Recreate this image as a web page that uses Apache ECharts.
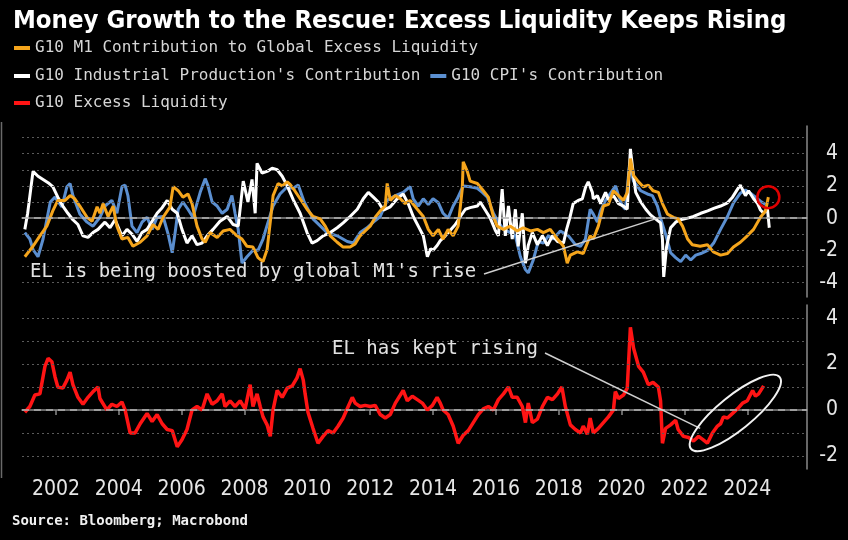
<!DOCTYPE html>
<html><head><meta charset="utf-8">
<script src="https://cdn.jsdelivr.net/npm/echarts@6/dist/echarts.min.js"></script>
<style>html,body{margin:0;padding:0;background:#000;}#c{width:848px;height:540px;}</style>
</head><body><div id="c"></div>
<script>
const yearTicks = [2002,2004,2006,2008,2010,2012,2014,2016,2018,2020,2022,2024];
const topLabels = [-4,-2,0,2,4];
const topGridLines = [-4,-3,-2,-1,1,2,3,4,5];
const bottomLabels = [-2,0,2,4];
const bottomGridLines = [-2,-1,1,2,3,4];

const m1Contribution = [[2001.01,-2.4],[2001.27,-1.75],[2001.49,-1.1],[2001.71,-0.5],[2001.9,0.45],[2002.06,1.1],[2002.29,1.1],[2002.45,1.4],[2002.6,1.2],[2002.76,0.75],[2002.99,0.05],[2003.15,-0.2],[2003.31,0.7],[2003.4,0.3],[2003.5,0.9],[2003.66,0.1],[2003.82,0.75],[2003.94,-0.5],[2004.1,-1.3],[2004.29,-1.2],[2004.45,-1.75],[2004.68,-1.5],[2004.9,-1.1],[2005.09,-0.4],[2005.25,-0.7],[2005.41,0.05],[2005.63,0.7],[2005.73,1.95],[2005.89,1.7],[2006.04,1.3],[2006.2,1.5],[2006.33,0.9],[2006.49,-0.5],[2006.65,-1.3],[2006.75,-1.5],[2006.9,-0.9],[2007.13,-1.2],[2007.32,-0.8],[2007.54,-0.7],[2007.76,-1.1],[2007.92,-1.3],[2008.08,-1.75],[2008.27,-1.8],[2008.43,-2.45],[2008.59,-2.7],[2008.72,-1.95],[2008.82,-0.25],[2008.91,1.4],[2009.07,2.15],[2009.2,2.0],[2009.36,2.25],[2009.45,2.1],[2009.6,1.7],[2009.77,1.2],[2009.99,0.55],[2010.18,0.1],[2010.41,-0.05],[2010.57,-0.5],[2010.73,-1.1],[2010.95,-1.5],[2011.14,-1.8],[2011.36,-1.8],[2011.52,-1.6],[2011.68,-1.1],[2011.84,-0.8],[2012.0,-0.5],[2012.16,0.05],[2012.32,0.45],[2012.48,0.75],[2012.54,2.15],[2012.64,1.1],[2012.8,1.4],[2012.96,1.2],[2013.11,0.9],[2013.27,1.1],[2013.5,0.55],[2013.69,0.1],[2013.85,-0.7],[2014.0,-1.1],[2014.17,-0.7],[2014.32,-1.3],[2014.48,-0.7],[2014.64,-1.1],[2014.8,-0.5],[2014.93,1.8],[2014.96,3.5],[2015.09,2.9],[2015.18,2.3],[2015.41,2.15],[2015.6,1.7],[2015.76,1.3],[2015.92,0.1],[2016.04,-0.5],[2016.24,-0.7],[2016.46,-0.5],[2016.68,-0.8],[2016.87,-0.6],[2017.1,-0.8],[2017.32,-0.7],[2017.51,-0.9],[2017.73,-0.7],[2017.96,-1.3],[2018.15,-1.75],[2018.27,-2.8],[2018.37,-2.3],[2018.59,-2.1],[2018.78,-2.2],[2019.0,-1.1],[2019.1,-1.3],[2019.26,-0.5],[2019.42,0.75],[2019.58,0.85],[2019.74,1.7],[2019.9,1.4],[2020.06,1.1],[2020.18,1.6],[2020.28,3.7],[2020.38,2.65],[2020.54,2.25],[2020.69,1.95],[2020.85,2.05],[2021.0,1.7],[2021.17,1.6],[2021.3,0.9],[2021.46,0.25],[2021.65,0.05],[2021.8,-0.05],[2021.94,-0.5],[2022.1,-1.3],[2022.25,-1.65],[2022.5,-1.75],[2022.73,-1.65],[2022.92,-2.1],[2023.15,-2.3],[2023.37,-2.2],[2023.56,-1.8],[2023.78,-1.5],[2024.0,-1.1],[2024.2,-0.7],[2024.42,0.05],[2024.58,0.45],[2024.67,1.3]];

const cpiContribution = [[2001.01,-0.9],[2001.17,-1.3],[2001.27,-1.95],[2001.43,-2.4],[2001.59,-1.3],[2001.82,1.0],[2001.97,1.3],[2002.19,0.7],[2002.35,1.95],[2002.45,2.15],[2002.54,1.4],[2002.76,0.25],[2002.99,-0.25],[2003.18,-0.5],[2003.4,0.05],[2003.56,0.75],[2003.78,1.1],[2003.94,0.3],[2004.1,1.95],[2004.2,2.05],[2004.29,1.4],[2004.42,-0.5],[2004.58,-0.9],[2004.74,-0.25],[2004.9,0.05],[2005.06,-0.7],[2005.22,0.05],[2005.41,0.1],[2005.57,-1.0],[2005.7,-2.15],[2005.8,-0.8],[2005.89,0.55],[2006.04,1.0],[2006.2,0.55],[2006.36,0.05],[2006.59,1.6],[2006.75,2.45],[2006.84,2.0],[2006.97,1.0],[2007.13,0.75],[2007.29,0.3],[2007.45,0.55],[2007.6,1.4],[2007.7,0.3],[2007.8,-0.7],[2007.92,-2.8],[2008.08,-2.4],[2008.27,-2.0],[2008.43,-2.0],[2008.59,-1.3],[2008.75,-0.25],[2008.91,0.75],[2009.13,1.5],[2009.36,1.95],[2009.55,1.85],[2009.71,2.05],[2009.9,1.0],[2010.18,-0.05],[2010.63,-0.9],[2010.95,-1.1],[2011.27,-1.45],[2011.46,-1.55],[2011.68,-0.9],[2011.9,-0.6],[2012.1,-0.25],[2012.32,0.1],[2012.54,1.1],[2012.8,1.4],[2013.05,1.6],[2013.27,1.95],[2013.37,1.2],[2013.53,0.75],[2013.69,1.2],[2013.85,0.85],[2014.0,1.2],[2014.17,0.95],[2014.32,0.3],[2014.48,0.0],[2014.64,0.75],[2014.77,1.2],[2014.96,2.0],[2015.18,1.95],[2015.41,1.85],[2015.57,1.6],[2015.73,1.3],[2015.92,0.3],[2016.08,-0.25],[2016.24,-0.7],[2016.46,-0.9],[2016.62,-1.1],[2016.78,-2.4],[2016.94,-3.2],[2017.03,-3.4],[2017.19,-2.6],[2017.35,-1.45],[2017.51,-1.55],[2017.67,-1.1],[2017.83,-1.3],[2018.05,-0.8],[2018.31,-1.1],[2018.53,-1.65],[2018.69,-1.75],[2018.85,-1.3],[2019.0,0.55],[2019.1,0.25],[2019.23,-0.25],[2019.33,0.45],[2019.49,1.1],[2019.65,1.55],[2019.81,2.0],[2019.9,1.4],[2020.03,0.75],[2020.12,0.55],[2020.25,3.3],[2020.38,2.3],[2020.61,1.7],[2020.82,1.5],[2020.98,1.4],[2021.14,0.75],[2021.24,0.0],[2021.4,-1.0],[2021.56,-2.15],[2021.72,-2.45],[2021.88,-2.7],[2022.04,-2.3],[2022.2,-2.6],[2022.36,-2.3],[2022.52,-2.2],[2022.74,-2.0],[2022.93,-1.55],[2023.15,-0.7],[2023.37,0.1],[2023.56,0.95],[2023.78,1.55],[2023.94,1.75],[2024.1,1.55],[2024.26,1.3],[2024.42,1.05],[2024.58,0.85]];

const ipContribution = [[2001.01,-0.7],[2001.1,0.3],[2001.27,2.9],[2001.43,2.6],[2001.59,2.4],[2001.75,2.2],[2001.9,1.95],[2002.06,1.3],[2002.22,0.75],[2002.38,0.3],[2002.54,-0.1],[2002.7,-0.4],[2002.86,-1.1],[2003.02,-1.2],[2003.18,-0.9],[2003.34,-0.7],[2003.56,-0.25],[2003.72,-0.6],[2003.88,-0.1],[2004.1,-1.1],[2004.26,-0.7],[2004.42,-1.0],[2004.58,-1.45],[2004.74,-0.9],[2004.9,-0.7],[2005.06,-0.2],[2005.22,0.3],[2005.38,0.65],[2005.54,1.1],[2005.7,0.55],[2005.86,0.3],[2006.01,-0.7],[2006.17,-1.55],[2006.33,-1.1],[2006.49,-1.65],[2006.65,-1.55],[2006.81,-1.1],[2007.0,-0.7],[2007.22,-0.2],[2007.45,0.1],[2007.64,-0.4],[2007.8,-0.5],[2007.96,2.3],[2008.11,1.0],[2008.24,2.4],[2008.34,0.3],[2008.4,3.4],[2008.56,2.8],[2008.72,2.9],[2008.88,3.1],[2009.04,3.0],[2009.2,2.6],[2009.36,2.0],[2009.55,1.15],[2009.77,0.3],[2009.99,-0.9],[2010.15,-1.55],[2010.31,-1.4],[2010.5,-1.1],[2010.73,-0.9],[2010.95,-0.6],[2011.14,-0.3],[2011.36,0.1],[2011.59,0.55],[2011.78,1.2],[2011.94,1.6],[2012.1,1.3],[2012.26,1.0],[2012.42,0.5],[2012.64,0.7],[2012.86,1.2],[2013.05,1.5],[2013.21,0.9],[2013.37,0.1],[2013.53,-0.5],[2013.69,-1.1],[2013.82,-2.4],[2013.92,-1.9],[2014.0,-2.0],[2014.13,-1.7],[2014.23,-1.4],[2014.39,-1.1],[2014.55,-0.75],[2014.71,-0.4],[2014.87,0.1],[2015.03,0.55],[2015.18,0.65],[2015.41,0.75],[2015.5,1.0],[2015.66,0.5],[2015.82,0.0],[2015.98,-0.75],[2016.08,-1.1],[2016.2,1.8],[2016.3,-1.1],[2016.4,0.75],[2016.52,-1.3],[2016.62,0.55],[2016.71,-1.75],[2016.84,0.3],[2016.94,-2.8],[2017.03,-1.7],[2017.16,-0.9],[2017.32,-1.65],[2017.48,-1.1],[2017.64,-1.7],[2017.8,-1.1],[2017.96,-1.45],[2018.15,-1.55],[2018.25,-0.7],[2018.35,0.0],[2018.46,0.9],[2018.62,1.1],[2018.75,1.2],[2018.85,1.9],[2018.94,2.25],[2019.07,1.6],[2019.1,1.2],[2019.23,1.4],[2019.33,0.9],[2019.49,1.6],[2019.58,1.15],[2019.74,1.4],[2019.9,0.9],[2020.06,0.75],[2020.18,0.55],[2020.28,4.3],[2020.38,2.6],[2020.45,1.6],[2020.61,1.0],[2020.77,0.55],[2020.92,0.2],[2021.08,-0.05],[2021.24,-0.3],[2021.3,-1.3],[2021.34,-3.65],[2021.43,-1.8],[2021.56,-0.6],[2021.72,-0.25],[2021.88,-0.1],[2022.1,0.0],[2022.29,0.1],[2022.52,0.3],[2022.74,0.45],[2022.93,0.6],[2023.15,0.75],[2023.37,0.95],[2023.53,1.3],[2023.69,1.8],[2023.78,2.05],[2023.94,1.4],[2024.04,1.7],[2024.2,1.2],[2024.33,0.9],[2024.42,0.5],[2024.52,0.3],[2024.64,0.6],[2024.7,-0.6]];

const excessLiquidity = [[2001.01,-0.1],[2001.17,0.15],[2001.33,0.65],[2001.49,0.7],[2001.65,1.9],[2001.75,2.25],[2001.87,2.1],[2001.97,1.45],[2002.06,1.0],[2002.22,0.95],[2002.35,1.3],[2002.45,1.65],[2002.54,1.1],[2002.7,0.55],[2002.86,0.25],[2003.02,0.55],[2003.18,0.8],[2003.34,1.0],[2003.4,0.5],[2003.62,0.0],[2003.78,0.25],[2003.94,0.15],[2004.1,0.35],[2004.2,0.0],[2004.36,-1.0],[2004.52,-1.0],[2004.68,-0.6],[2004.9,-0.15],[2005.06,-0.5],[2005.22,-0.2],[2005.38,-0.6],[2005.54,-0.85],[2005.7,-0.9],[2005.86,-1.6],[2006.01,-1.3],[2006.17,-0.85],[2006.33,0.0],[2006.49,0.15],[2006.65,0.0],[2006.81,0.7],[2006.97,0.25],[2007.13,0.4],[2007.29,0.7],[2007.38,0.15],[2007.54,0.4],[2007.7,0.15],[2007.86,0.4],[2008.02,0.05],[2008.18,1.1],[2008.27,0.15],[2008.4,0.7],[2008.5,0.15],[2008.59,-0.3],[2008.72,-0.65],[2008.82,-1.15],[2008.91,0.0],[2009.04,0.85],[2009.2,0.55],[2009.36,0.95],[2009.52,1.05],[2009.67,1.4],[2009.77,1.8],[2009.87,1.3],[2009.93,0.7],[2010.02,-0.1],[2010.18,-0.8],[2010.34,-1.45],[2010.5,-1.15],[2010.66,-0.9],[2010.82,-1.0],[2010.98,-0.7],[2011.14,-0.35],[2011.3,0.15],[2011.43,0.55],[2011.52,0.3],[2011.68,0.15],[2011.84,0.2],[2012.0,0.15],[2012.16,0.2],[2012.32,-0.2],[2012.48,-0.35],[2012.64,-0.2],[2012.8,0.3],[2012.96,0.65],[2013.05,0.85],[2013.18,0.4],[2013.34,0.6],[2013.5,0.45],[2013.66,0.3],[2013.82,0.0],[2013.98,0.2],[2014.13,0.55],[2014.23,0.3],[2014.32,0.0],[2014.48,-0.2],[2014.64,-0.7],[2014.8,-1.45],[2014.96,-1.1],[2015.12,-0.9],[2015.28,-0.55],[2015.44,-0.2],[2015.6,0.05],[2015.76,0.15],[2015.92,0.0],[2016.08,0.45],[2016.24,0.7],[2016.4,1.0],[2016.52,0.55],[2016.68,0.55],[2016.84,0.15],[2016.94,-0.55],[2017.03,0.3],[2017.16,-0.55],[2017.32,-0.4],[2017.48,0.15],[2017.64,0.55],[2017.8,0.45],[2017.96,0.7],[2018.1,1.0],[2018.21,0.15],[2018.37,-0.65],[2018.53,-0.85],[2018.69,-1.0],[2018.78,-0.7],[2018.91,-1.05],[2019.0,-0.35],[2019.1,-1.0],[2019.26,-0.8],[2019.42,-0.55],[2019.58,-0.3],[2019.74,0.0],[2019.8,0.8],[2019.9,0.5],[2020.06,0.65],[2020.18,0.95],[2020.28,3.6],[2020.38,2.7],[2020.54,1.9],[2020.69,1.65],[2020.85,1.1],[2021.0,1.2],[2021.17,1.0],[2021.24,0.4],[2021.3,-1.45],[2021.4,-0.8],[2021.56,-0.65],[2021.72,-0.45],[2021.8,-0.85],[2021.97,-1.15],[2022.13,-1.2],[2022.29,-1.35],[2022.45,-1.15],[2022.6,-1.3],[2022.73,-1.45],[2022.89,-1.0],[2023.05,-0.7],[2023.15,-0.6],[2023.24,-0.3],[2023.37,-0.35],[2023.53,-0.15],[2023.69,0.05],[2023.85,0.3],[2024.0,0.4],[2024.17,0.85],[2024.26,0.6],[2024.36,0.7],[2024.52,1.05]];

const NAMES = {
  m1: 'G10 M1 Contribution to Global Excess Liquidity',
  ip: "G10 Industrial Production's Contribution",
  cpi: "G10 CPI's Contribution",
  el: 'G10 Excess Liquidity'
};
const COLORS = { m1: '#f5a51c', ip: '#ffffff', cpi: '#5b8fd0', el: '#ff1414' };
const X_MIN = 2000.92, X_MAX = 2025.9;
const FONT_AX = 'DejaVu Sans Condensed';
const FONT_MONO = 'DejaVu Sans Mono';

const chart = echarts.init(document.getElementById('c'), null, { renderer: 'canvas' });

function gridLines(vals) {
  const d = vals.map(v => ({ yAxis: v }));
  d.push({ yAxis: 0, lineStyle: { type: [7, 5], color: '#b0b0b0', width: 1.5 } });
  return {
    silent: true, symbol: ['none', 'none'], label: { show: false },
    lineStyle: { type: [2, 3], color: '#5a5a5a', width: 1 },
    emphasis: { disabled: true }, animation: false, data: d
  };
}
function xAxisCfg(gi, showLabels) {
  return {
    type: 'value', gridIndex: gi, min: X_MIN, max: X_MAX,
    axisLine: { show: true, lineStyle: { color: '#8a8a8a', width: 1.5 } },
    axisTick: showLabels ? { show: true, customValues: yearTicks, length: 5, lineStyle: { color: '#8a8a8a', width: 1.5 } } : { show: false },
    axisLabel: showLabels ? { show: true, customValues: yearTicks, formatter: v => String(v), color: '#e6e6e6', fontFamily: FONT_AX, fontSize: 21, margin: 10 } : { show: false },
    splitLine: { show: false }
  };
}
function yAxisCfg(gi, mn, mx, labels) {
  return {
    type: 'value', gridIndex: gi, position: 'right', min: mn, max: mx,
    axisLine: { show: true, lineStyle: { color: '#8a8a8a', width: 1.5 } },
    axisTick: { show: false },
    axisLabel: { show: true, customValues: labels, margin: 8,
      formatter: v => '{v|' + v + '}',
      rich: { v: { width: 23, align: 'right', color: '#e6e6e6', fontFamily: FONT_AX, fontSize: 21 } } },
    splitLine: { show: false }
  };
}
function lineSeries(name, data, color, xi, yi, w, z) {
  return { name, type: 'line', data, xAxisIndex: xi, yAxisIndex: yi, symbol: 'none', z,
    lineStyle: { color, width: w }, itemStyle: { color }, emphasis: { disabled: true }, animation: false };
}
const legendBase = {
  icon: 'rect', itemWidth: 16, itemHeight: 4, itemGap: 10, padding: 0, selectedMode: false,
  textStyle: { color: '#d6d6d6', fontFamily: FONT_MONO, fontSize: 16, padding: [0, 0, 0, 0] }
};

chart.setOption({
  backgroundColor: '#000',
  animation: false,
  title: { text: 'Money Growth to the Rescue: Excess Liquidity Keeps Rising', left: 8, top: 3,
    textStyle: { color: '#ffffff', fontFamily: FONT_AX, fontWeight: 'bold', fontSize: 25.5 } },
  legend: [
    Object.assign({}, legendBase, { data: [NAMES.m1], left: 14, top: 40 }),
    Object.assign({}, legendBase, { data: [NAMES.ip, NAMES.cpi], left: 14, top: 68 }),
    Object.assign({}, legendBase, { data: [NAMES.el], left: 14, top: 95 })
  ],
  grid: [
    { left: 22, right: 41, top: 126, height: 171, containLabel: false, outerBoundsMode: 'none' },
    { left: 22, right: 41, top: 305, height: 164, containLabel: false, outerBoundsMode: 'none' }
  ],
  xAxis: [xAxisCfg(0, false), xAxisCfg(1, true)],
  yAxis: [yAxisCfg(0, -4.9, 5.72, topLabels), yAxisCfg(1, -2.57, 4.57, bottomLabels)],
  series: [
    { type: 'line', data: [], xAxisIndex: 0, yAxisIndex: 0, z: 1, markLine: gridLines(topGridLines) },
    { type: 'line', data: [], xAxisIndex: 1, yAxisIndex: 1, z: 1, markLine: gridLines(bottomGridLines) },
    lineSeries(NAMES.cpi, cpiContribution, COLORS.cpi, 0, 0, 3, 2),
    lineSeries(NAMES.ip, ipContribution, COLORS.ip, 0, 0, 3, 3),
    lineSeries(NAMES.m1, m1Contribution, COLORS.m1, 0, 0, 3, 4),
    lineSeries(NAMES.el, excessLiquidity, COLORS.el, 1, 1, 3.5, 4)
  ]
});

// annotations anchored to the data coordinate systems
const lastM1 = m1Contribution[m1Contribution.length - 1];
const circ = chart.convertToPixel({ gridIndex: 0 }, lastM1);
const ellC = chart.convertToPixel({ gridIndex: 1 }, [2023.62, -0.13]);
const lineTopEnd = chart.convertToPixel({ gridIndex: 0 }, [2021.15, 0.0]);
const lineBotEnd = chart.convertToPixel({ gridIndex: 1 }, [2022.5, -0.8]);

chart.setOption({
  graphic: [
    { type: 'line', shape: { x1: 1.5, y1: 122, x2: 1.5, y2: 478 }, style: { stroke: '#6a6a6a', lineWidth: 1.5 }, silent: true },
    { type: 'text', left: 30, top: 263, style: { text: "EL is being boosted by global M1's rise", fill: '#e2e2e2', font: '19px "DejaVu Sans Mono"' }, z: 10 },
    { type: 'line', shape: { x1: 484, y1: 274, x2: lineTopEnd[0], y2: lineTopEnd[1] }, style: { stroke: '#cfcfcf', lineWidth: 1.5 }, z: 10, silent: true },
    { type: 'circle', shape: { cx: circ[0], cy: circ[1], r: 11 }, style: { fill: 'none', stroke: '#e00000', lineWidth: 2.5 }, z: 10, silent: true },
    { type: 'text', left: 332, top: 340, style: { text: 'EL has kept rising', fill: '#e2e2e2', font: '19px "DejaVu Sans Mono"' }, z: 10 },
    { type: 'line', shape: { x1: 545, y1: 353, x2: lineBotEnd[0], y2: lineBotEnd[1] }, style: { stroke: '#cfcfcf', lineWidth: 1.5 }, z: 10, silent: true },
    { type: 'ellipse', x: ellC[0], y: ellC[1], rotation: 0.68, shape: { cx: 0, cy: 0, rx: 57, ry: 17 }, style: { fill: 'none', stroke: '#f2f2f2', lineWidth: 2 }, z: 10, silent: true },
    { type: 'text', left: 12, top: 514, style: { text: 'Source: Bloomberg; Macrobond', fill: '#f0f0f0', font: 'bold 14px "DejaVu Sans Mono"' }, z: 10 }
  ]
});
</script></body></html>
